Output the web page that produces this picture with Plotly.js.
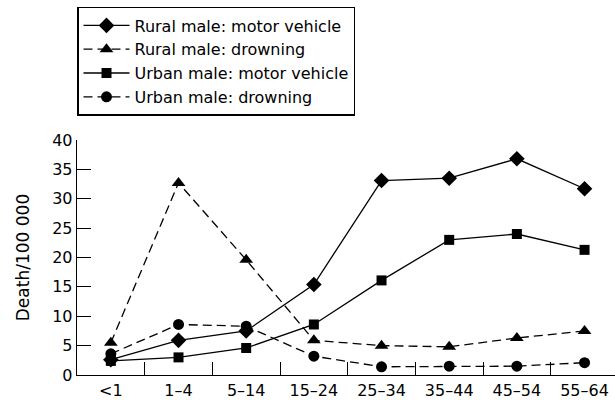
<!DOCTYPE html>
<html>
<head>
<meta charset="utf-8">
<script src="https://cdn.plot.ly/plotly-3.0.1.min.js"></script>
<style>html,body{margin:0;padding:0;background:#fff;}#chart{width:615px;height:400px;}</style>
</head>
<body>
<div id="chart"></div>
<script>
var ageGroups = ["<1", "1–4", "5–14", "15–24", "25–34", "35–44", "45–54", "55–64"];
var ruralMotor = [2.6, 5.9, 7.5, 15.4, 33.1, 33.5, 36.8, 31.7];
var ruralDrowning = [5.5, 32.7, 19.6, 5.9, 5.0, 4.8, 6.3, 7.5];
var urbanMotor = [2.4, 3.0, 4.6, 8.6, 16.1, 23.0, 24.0, 21.3];
var urbanDrowning = [3.6, 8.6, 8.3, 3.2, 1.4, 1.5, 1.5, 2.1];
var seriesNames = ["Rural male: motor vehicle", "Rural male: drowning", "Urban male: motor vehicle", "Urban male: drowning"];

var FONT = "'DejaVu Sans', sans-serif";
function tr(y, name, sym, dash, size) {
  return {
    x: ageGroups, y: y, name: name, type: "scatter", mode: "lines+markers",
    line: {color: "#000", width: 1.3, dash: dash},
    marker: {symbol: sym, color: "#000", size: size}
  };
}
var data = [
  tr(ruralMotor, seriesNames[0], "diamond", "solid", 12),
  tr(ruralDrowning, seriesNames[1], "triangle-up", "9px,5px", 12),
  tr(urbanMotor, seriesNames[2], "square", "solid", 10),
  tr(urbanDrowning, seriesNames[3], "circle", "9px,5px", 11)
];
var layout = {
  width: 615, height: 400,
  margin: {l: 77, r: 0, t: 140, b: 25},
  paper_bgcolor: "#fff", plot_bgcolor: "#fff",
  font: {family: FONT, size: 15, color: "#000"},
  showlegend: true,
  legend: {
    x: 0, xanchor: "left", y: 1.566, yanchor: "top",
    bordercolor: "#000", borderwidth: 1.5, bgcolor: "#fff",
    font: {family: FONT, size: 16, color: "#000"},
    itemwidth: 46, tracegroupgap: 0
  },
  xaxis: {
    type: "category", range: [-0.5, 7.45],
    tickson: "boundaries", ticks: "inside", ticklen: 13, tickcolor: "#000", tickwidth: 1,
    showline: true, linecolor: "#000", linewidth: 1.3, showgrid: false, zeroline: false,
    tickfont: {family: FONT, size: 16, color: "#000"}
  },
  yaxis: {
    range: [0, 40], dtick: 5, ticks: "inside", ticklen: 14, tickcolor: "#000", tickwidth: 1,
    showline: true, linecolor: "#000", linewidth: 1.3, showgrid: false, zeroline: false,
    tickfont: {family: FONT, size: 16, color: "#000"},
    title: {text: "Death/100 000", font: {family: FONT, size: 17, color: "#000"}, standoff: 18}
  }
};
Plotly.newPlot("chart", data, layout, {displayModeBar: false, staticPlot: true});
</script>
</body>
</html>
